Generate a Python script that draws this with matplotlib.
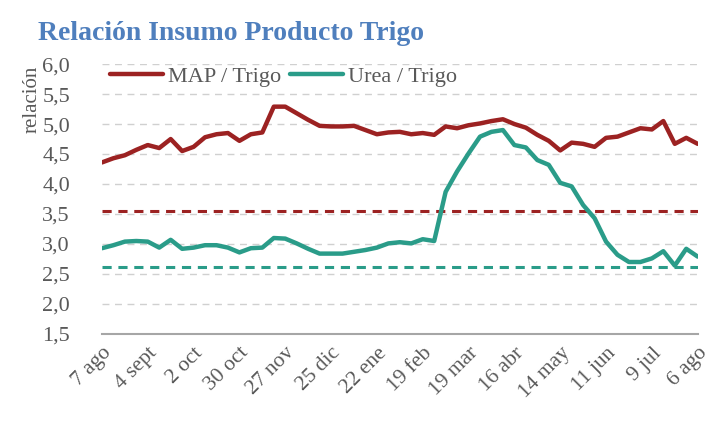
import matplotlib
matplotlib.use('Agg')
import matplotlib.pyplot as plt
import numpy as np

# weekly ratios, 7 ago -> 6 ago
map_trigo = [4.36, 4.43, 4.48, 4.57, 4.65, 4.60, 4.75, 4.55, 4.62, 4.78,
             4.83, 4.85, 4.72, 4.83, 4.86, 5.29, 5.29, 5.18, 5.07, 4.97,
             4.96, 4.96, 4.97, 4.90, 4.83, 4.86, 4.87, 4.83, 4.85, 4.82,
             4.96, 4.93, 4.98, 5.01, 5.05, 5.08, 5.00, 4.94, 4.82, 4.72,
             4.56, 4.69, 4.67, 4.62, 4.77, 4.79, 4.86, 4.93, 4.91, 5.05,
             4.67, 4.77, 4.67]
urea_trigo = [2.93, 2.98, 3.04, 3.05, 3.04, 2.94, 3.07, 2.92, 2.94, 2.98,
              2.98, 2.94, 2.86, 2.93, 2.94, 3.10, 3.09, 3.01, 2.92, 2.84,
              2.84, 2.84, 2.87, 2.90, 2.94, 3.01, 3.03, 3.01, 3.08, 3.05,
              3.87, 4.21, 4.51, 4.79, 4.87, 4.90, 4.65, 4.61, 4.40, 4.32,
              4.02, 3.96, 3.65, 3.43, 3.04, 2.82, 2.70, 2.70, 2.76, 2.88,
              2.64, 2.92, 2.79]
map_avg = 3.55
urea_avg = 2.62
tick_labels = ['7 ago', '4 sept', '2 oct', '30 oct', '27 nov', '25 dic', '22 ene',
               '19 feb', '19 mar', '16 abr', '14 may', '11 jun', '9 jul', '6 ago']

red = '#9c2222'
teal = '#2a9c89'
gray_txt = '#595959'

plt.rcParams['font.family'] = ['Liberation Serif', 'DejaVu Serif']

fig = plt.figure(figsize=(7.23, 4.30), dpi=100)
ax = fig.add_axes([0.141, 0.2233, 0.824, 0.6277])

x = np.arange(len(map_trigo))
ax.plot(x, map_trigo, color=red, lw=3.2, label='MAP / Trigo', solid_joinstyle='round',
        solid_capstyle='round', zorder=4)
ax.plot(x, urea_trigo, color=teal, lw=3.2, label='Urea / Trigo', solid_joinstyle='round',
        solid_capstyle='round', zorder=4)
ax.axhline(map_avg, color=red, lw=2.2, ls=(0, (3, 2.2)), zorder=3)
ax.axhline(urea_avg, color=teal, lw=2.2, ls=(0, (3, 2.2)), zorder=3)

ax.set_xlim(0, len(map_trigo) - 1)
ax.set_ylim(1.5, 6.0)
yt = np.arange(1.5, 6.01, 0.5)
ax.set_yticks(yt)
ax.set_yticklabels([f'{v:.1f}'.replace('.', ',') for v in yt])
for v in yt[1:]:
    ax.axhline(v, color='#d0d0d0', lw=1, ls=(0, (5, 4)), zorder=1)

ax.set_xticks(np.arange(0, len(map_trigo), 4))
ax.set_xticklabels(tick_labels, rotation=45, ha='right', va='top', rotation_mode='anchor')

for s in ['top', 'right', 'left']:
    ax.spines[s].set_visible(False)
ax.spines['bottom'].set_color('#a6a6a6')
ax.spines['bottom'].set_linewidth(1.5)
ax.tick_params(length=0, labelcolor=gray_txt)
ax.tick_params(axis='y', pad=23, labelsize=16)
ax.tick_params(axis='x', pad=7, labelsize=15.5)

fig.text(0.045, 0.77, 'relación', rotation=90, fontsize=15, color=gray_txt, ha='center', va='center')
fig.text(0.052, 0.922, 'Relación Insumo Producto Trigo', fontsize=20, fontweight='bold',
         color='#4f7fbd', ha='left', va='center')

leg = ax.legend(loc='upper left', bbox_to_anchor=(-0.02, 1.065), ncol=2, frameon=False,
                fontsize=16, handlelength=2.4, columnspacing=0.4, handletextpad=0.2)
for t in leg.get_texts():
    t.set_color(gray_txt)

fig.savefig('out.png', dpi=100)
